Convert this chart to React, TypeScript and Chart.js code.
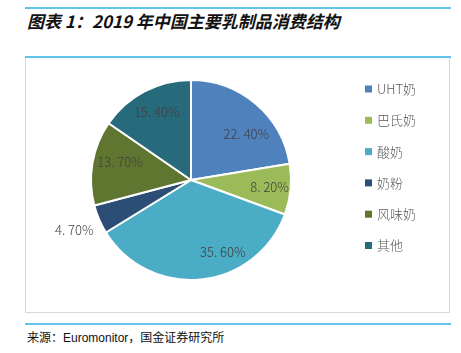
import React, { useEffect, useRef } from "react";
import { Chart, registerables } from "chart.js";

Chart.register(...registerables);

const categories = ["UHT奶", "巴氏奶", "酸奶", "奶粉", "风味奶", "其他"];
const shares = [22.4, 8.2, 35.6, 4.7, 13.7, 15.4];
const sliceColors = ["#4F81BD", "#9BBB59", "#4BACC6", "#2C4D75", "#5F7530", "#276A7C"];
// label placement: angular shift (degrees) and radial factor
const labelShift = [10, 0, -18, 0, 4, 1];
const labelRadius = [0.72, 0.79, 0.79, 1.27, 0.73, 0.76];

const fmt = (v: number) => {
  const s = v.toFixed(2);
  const [a, b] = s.split(".");
  return a + ". " + b + "%";
};

const labelPlugin = {
  id: "sliceLabels",
  afterDatasetsDraw(chart: any) {
    const ctx = chart.ctx;
    const meta = chart.getDatasetMeta(0);
    ctx.save();
    ctx.font = "300 13px 'Noto Sans CJK SC', 'Noto Sans', sans-serif";
    ctx.fillStyle = "#404040";
    ctx.textAlign = "center";
    ctx.textBaseline = "middle";
    meta.data.forEach((arc: any, i: number) => {
      const p = arc.getProps(["x", "y", "startAngle", "endAngle", "outerRadius"], true);
      const mid = (p.startAngle + p.endAngle) / 2 + (labelShift[i] * Math.PI) / 180;
      const r = p.outerRadius * labelRadius[i];
      ctx.fillText(fmt(shares[i]), p.x + Math.cos(mid) * r, p.y + Math.sin(mid) * r);
    });
    ctx.restore();
  },
};

const legendPlugin = {
  id: "sideLegend",
  afterDraw(chart: any) {
    const ctx = chart.ctx;
    const ds = chart.data.datasets[0];
    ctx.save();
    ctx.font = "300 13px 'Noto Sans CJK SC', sans-serif";
    ctx.textBaseline = "middle";
    ctx.textAlign = "left";
    chart.data.labels.forEach((lab: string, i: number) => {
      const y = 31 + i * 31.3;
      ctx.fillStyle = ds.backgroundColor[i];
      ctx.fillRect(339, y - 3.5, 7, 7);
      ctx.fillStyle = "#595959";
      ctx.fillText(lab, 351, y);
    });
    ctx.restore();
  },
};

function PieChart() {
  const ref = useRef<HTMLCanvasElement | null>(null);
  useEffect(() => {
    if (!ref.current) return;
    const chart = new Chart(ref.current, {
      type: "pie",
      data: {
        labels: categories,
        datasets: [
          {
            data: shares,
            backgroundColor: sliceColors,
            borderColor: "#FFFFFF",
            borderWidth: 2,
            hoverOffset: 0,
          },
        ],
      },
      options: {
        animation: false,
        responsive: false,
        maintainAspectRatio: false,
        layout: { padding: { left: 64, top: 21, right: 158, bottom: 31 } },
        plugins: { legend: { display: false }, tooltip: { enabled: false } },
      },
      plugins: [labelPlugin, legendPlugin],
    });
    return () => chart.destroy();
  }, []);
  return <canvas ref={ref} width={424} height={254} style={{ display: "block", width: 424, height: 254 }} />;
}

export default function App() {
  return (
    <div style={{ position: "absolute", left: 0, top: 0, width: 461, height: 353, background: "#fff" }}>
      <div style={{ position: "absolute", left: 25, top: 7, width: 426, height: 2, background: "#62C4EC" }} />
      <div
        style={{
          position: "absolute",
          left: 27,
          top: 10,
          fontFamily: "'Noto Sans CJK SC', sans-serif",
          fontWeight: 700,
          fontStyle: "italic",
          fontSize: 17,
          lineHeight: "22px",
          color: "#111",
          whiteSpace: "nowrap",
        }}
      >
        图表 1：2019 年中国主要乳制品消费结构
      </div>
      <div style={{ position: "absolute", left: 25, top: 56, width: 426, height: 2, background: "#62C4EC" }} />
      <div
        style={{
          position: "absolute",
          left: 25,
          top: 58,
          width: 425,
          height: 255,
          borderLeft: "1px solid #D9D9D9",
          borderRight: "1px solid #D9D9D9",
          borderBottom: "1px solid #D9D9D9",
          boxSizing: "border-box",
        }}
      >
        <PieChart />
      </div>
      <div style={{ position: "absolute", left: 25, top: 323, width: 426, height: 2, background: "#62C4EC" }} />
      <div
        style={{
          position: "absolute",
          left: 27,
          top: 330,
          fontFamily: "'Liberation Sans', 'Noto Sans CJK SC', sans-serif",
          fontSize: 12,
          lineHeight: "16px",
          color: "#111",
          whiteSpace: "nowrap",
        }}
      >
        来源：Euromonitor，国金证券研究所
      </div>
    </div>
  );
}
